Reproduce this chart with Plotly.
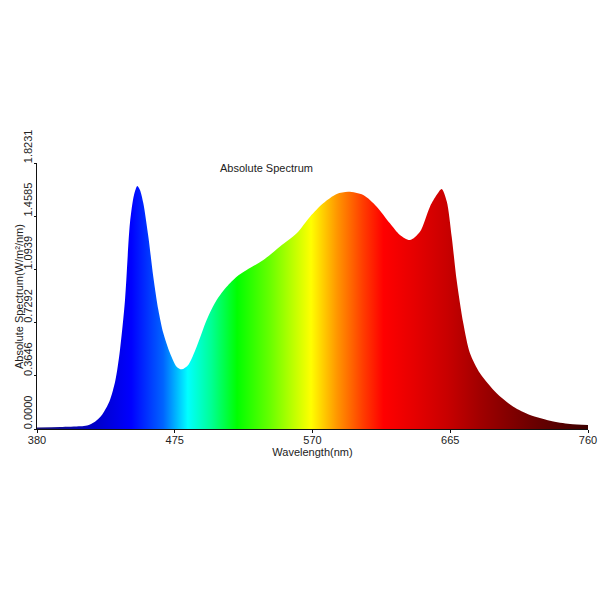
import plotly.graph_objects as go

wavelength = [380, 396, 410, 414.5, 420, 425, 430, 434, 437.2, 440.7, 444.1, 446.9, 449.2,
              451.0, 453.3, 456.8, 460.2, 463.7, 467.1, 471.7, 476.3, 479.8, 484.3, 490.1, 497.0,
              503.9, 510.8, 517.7, 524.6, 536.1, 547.6, 559.1, 568.3, 577.4, 586.7, 594.7, 605.0,
              614.3, 623.4, 630.3, 637.2, 644.1, 651.0, 655.7, 659.1, 662.6, 666.0, 669.4, 674.0,
              678.6, 685.5, 697.0, 708.5, 720.0, 733.8, 747.6, 760]
irradiance = [0.010, 0.013, 0.018, 0.024, 0.050, 0.100, 0.190, 0.330, 0.540, 0.884, 1.412, 1.604, 1.666,
              1.638, 1.549, 1.318, 1.044, 0.816, 0.658, 0.521, 0.427, 0.409, 0.439, 0.564, 0.747,
              0.884, 0.975, 1.044, 1.090, 1.158, 1.250, 1.341, 1.455, 1.547, 1.611, 1.626, 1.604,
              1.524, 1.410, 1.330, 1.295, 1.352, 1.524, 1.605, 1.645, 1.560, 1.318, 1.021, 0.724,
              0.519, 0.382, 0.245, 0.153, 0.096, 0.057, 0.034, 0.027]

x_ticks = [380, 475, 570, 665, 760]
y_ticks = [0.0, 0.3646, 0.7292, 1.0939, 1.4585, 1.8231]
y_tick_labels = ["0.0000", "0.3646", "0.7292", "1.0939", "1.4585", "1.8231"]

# wavelength -> colour stops for the rainbow fill
color_nm = [380, 420, 445, 467, 484, 500, 518, 540, 569, 587, 605, 619, 640, 663, 686, 720, 760]
color_rgb = ["rgb(25,20,120)", "rgb(0,0,200)", "rgb(0,0,255)", "rgb(0,100,255)", "rgb(0,255,255)",
             "rgb(0,255,150)", "rgb(0,255,0)", "rgb(100,255,0)", "rgb(255,255,0)", "rgb(255,150,0)",
             "rgb(255,60,0)", "rgb(255,0,0)", "rgb(230,0,0)", "rgb(200,0,0)", "rgb(160,0,0)",
             "rgb(110,0,0)", "rgb(60,0,0)"]

lo, hi = color_nm[0], color_nm[-1]
colorscale = [[(w - lo) / (hi - lo), c] for w, c in zip(color_nm, color_rgb)]

fig = go.Figure()
fig.add_trace(go.Scatter(
    x=wavelength, y=irradiance, mode="lines",
    line=dict(shape="spline", smoothing=0.8, width=0.5, color="rgba(0,0,0,0)"),
    fill="tozeroy",
    fillgradient=dict(type="horizontal", colorscale=colorscale, start=lo, stop=hi),
    hoverinfo="x+y", showlegend=False,
))

font = dict(family="Liberation Sans, Arial, sans-serif", size=11, color="#222222")

fig.update_layout(
    width=600, height=600,
    margin=dict(l=37, r=12, t=163, b=171),
    paper_bgcolor="white", plot_bgcolor="white",
    font=font,
    showlegend=False,
    xaxis=dict(range=[380, 760], tickvals=x_ticks, ticktext=[str(v) for v in x_ticks],
               showgrid=False, zeroline=False, showline=True, linecolor="#111111", linewidth=1,
               ticks="outside", ticklen=3, tickcolor="#111111", automargin=False,
               ticklabeloverflow="allow", ticklabelstandoff=-2,
               title=dict(text="Wavelength(nm)", standoff=0, font=font)),
    yaxis=dict(range=[0, 1.8231], tickvals=y_ticks, ticktext=y_tick_labels,
               showgrid=False, zeroline=False, showline=True, linecolor="#111111", linewidth=1,
               ticks="outside", ticklen=2, tickcolor="#111111", tickangle=-90,
               ticklabelshift=-15, ticklabelstandoff=-2, automargin=False,
               ticklabeloverflow="allow"),
    annotations=[
        dict(text="Absolute Spectrum", x=0.417, y=0.981, xref="paper", yref="paper",
             xanchor="center", yanchor="middle", showarrow=False, font=font),
        dict(text="Absolute Spectrum(W/m²/nm)", x=-0.0327, y=0.5, xref="paper", yref="paper",
             xanchor="center", yanchor="middle", textangle=-90, showarrow=False, font=font),
    ],
)

fig.write_html("out.html", config={"displayModeBar": False},
               post_script="document.body.style.margin='0px';document.body.style.overflow='hidden';")
